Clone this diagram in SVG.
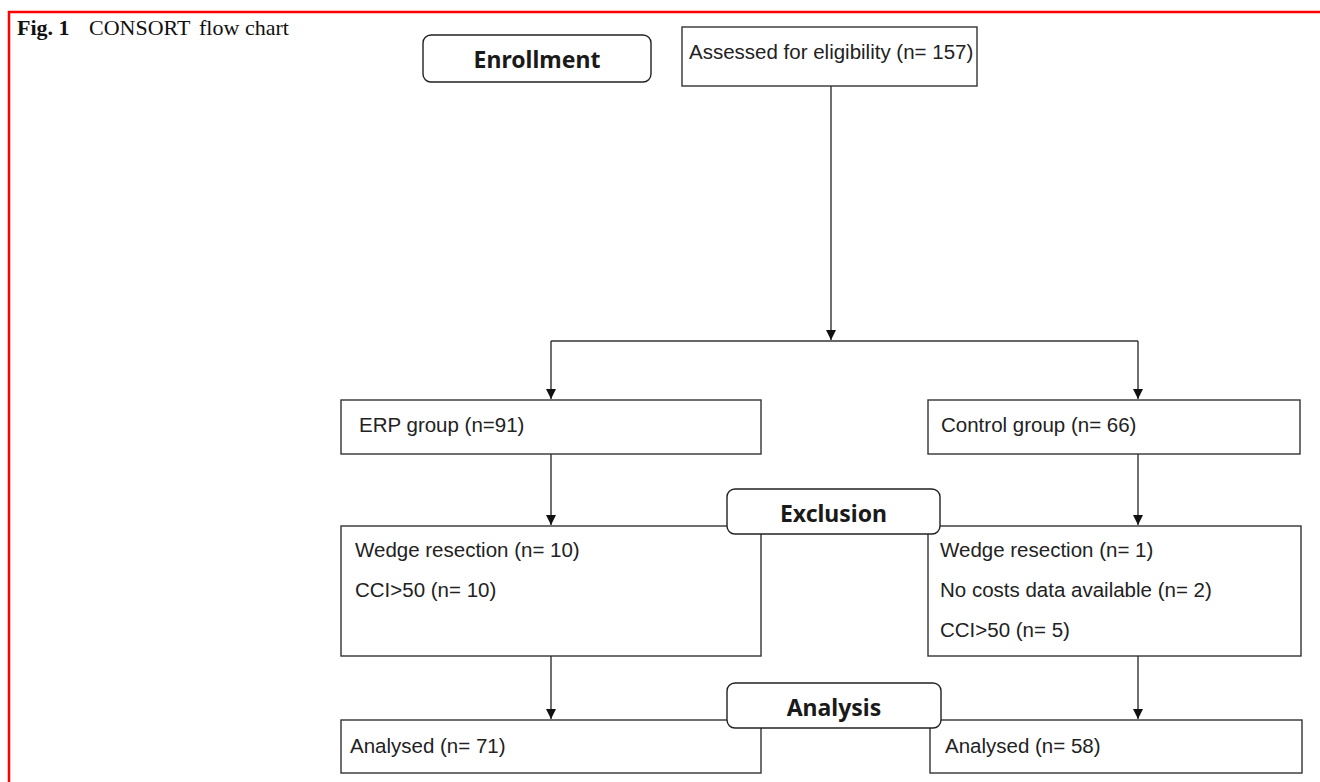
<svg xmlns="http://www.w3.org/2000/svg" width="1320" height="782" viewBox="0 0 1320 782">
<defs>
<style>
.box{fill:#fff;stroke:#333;stroke-width:1.4}
.hdr{fill:#fff;stroke:#222;stroke-width:1.4}
.t{font-family:"Liberation Sans",Arial,sans-serif;font-size:20.5px;fill:#222}
.h{font-family:"Noto Sans","Open Sans",sans-serif;font-size:23px;font-weight:bold;fill:#1a1a1a;text-anchor:middle}
.ln{fill:none;stroke:#333;stroke-width:1.4}
</style>
<marker id="ah" markerWidth="10" markerHeight="10" refX="10" refY="5" orient="auto" markerUnits="userSpaceOnUse">
<path d="M0,0 L10,5 L0,10 Z" fill="#111"/>
</marker>
</defs>
<rect width="1320" height="782" fill="#fff"/>
<path d="M9,782 L9,12 L1320,12" fill="none" stroke="#f00" stroke-width="2.5"/>
<text y="35" font-family="Liberation Serif,Times New Roman,serif" font-size="22" fill="#111"><tspan x="17" font-weight="bold">Fig. 1</tspan><tspan x="89">CONSORT</tspan><tspan x="199">flow</tspan><tspan x="245">chart</tspan></text>

<g id="connectors">
<line class="ln" x1="831" y1="86" x2="831" y2="340" marker-end="url(#ah)"/>
<line class="ln" x1="551" y1="341" x2="1138" y2="341"/>
<line class="ln" x1="551" y1="341" x2="551" y2="399" marker-end="url(#ah)"/>
<line class="ln" x1="1138" y1="341" x2="1138" y2="399" marker-end="url(#ah)"/>
<line class="ln" x1="551" y1="454" x2="551" y2="525" marker-end="url(#ah)"/>
<line class="ln" x1="1138" y1="454" x2="1138" y2="525" marker-end="url(#ah)"/>
<line class="ln" x1="551" y1="656" x2="551" y2="719" marker-end="url(#ah)"/>
<line class="ln" x1="1138" y1="656" x2="1138" y2="719" marker-end="url(#ah)"/>
</g>

<g id="assessed">
<rect class="box" x="682" y="27" width="295" height="59"/>
<text class="t" x="689" y="59">Assessed for eligibility (n= 157)</text>
</g>
<g id="erp">
<rect class="box" x="341" y="400" width="420" height="54"/>
<text class="t" x="359" y="432">ERP group (n=91)</text>
</g>
<g id="control">
<rect class="box" x="928" y="400" width="372" height="54"/>
<text class="t" x="941" y="432">Control group (n= 66)</text>
</g>
<g id="excl-erp">
<rect class="box" x="341" y="526" width="420" height="130"/>
<text class="t" x="355" y="557">Wedge resection (n= 10)</text>
<text class="t" x="355" y="597">CCI&gt;50 (n= 10)</text>
</g>
<g id="excl-control">
<rect class="box" x="928" y="526" width="373" height="130"/>
<text class="t" x="940" y="557">Wedge resection (n= 1)</text>
<text class="t" x="940" y="597">No costs data available (n= 2)</text>
<text class="t" x="940" y="637">CCI&gt;50 (n= 5)</text>
</g>
<g id="analysed-erp">
<rect class="box" x="341" y="720" width="420" height="53"/>
<text class="t" x="350" y="753">Analysed (n= 71)</text>
</g>
<g id="analysed-control">
<rect class="box" x="930" y="720" width="372" height="53"/>
<text class="t" x="945" y="753">Analysed (n= 58)</text>
</g>
<g id="enrollment">
<rect class="hdr" x="423" y="35" width="228" height="47" rx="8"/>
<text class="h" x="537" y="68">Enrollment</text>
</g>
<g id="exclusion">
<rect class="hdr" x="727" y="489" width="213" height="45" rx="8"/>
<text class="h" x="833.5" y="522">Exclusion</text>
</g>
<g id="analysis">
<rect class="hdr" x="727" y="683" width="214" height="45" rx="8"/>
<text class="h" x="834" y="716">Analysis</text>
</g>
</svg>
